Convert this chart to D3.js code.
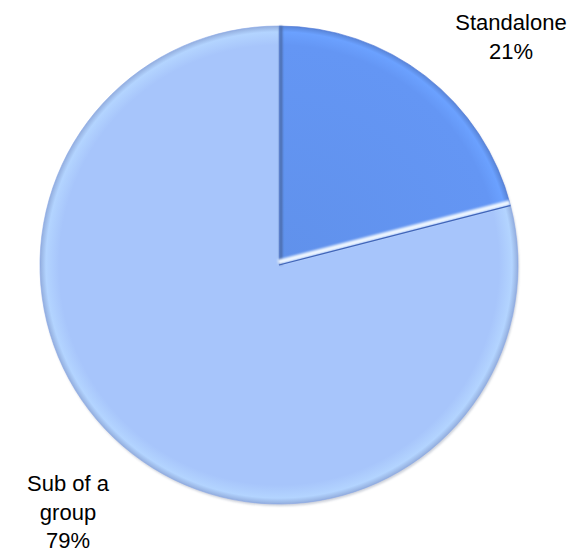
<!DOCTYPE html>
<html>
<head>
<meta charset="utf-8">
<script src="https://cdn.jsdelivr.net/npm/d3@7"></script>
<style>
  html, body { margin: 0; padding: 0; background: #fff; }
  text { font-family: "Liberation Sans", Arial, sans-serif; }
</style>
</head>
<body>
<svg id="chart" width="584" height="556"></svg>
<script>
// Company structure breakdown
const categories = ["Standalone", "Sub of a group"];
const shares = [21, 79];
const labelLines = [["Standalone", "21%"], ["Sub of a", "group", "79%"]];
const sliceColors = ["#6496f4", "#a7c5fb"];
const sliceEdges = ["#4a74d6", "#8aa8e8"];

const width = 584, height = 556;
const cx = 279, cy = 265, radius = 239;

const svg = d3.select("#chart");
const defs = svg.append("defs");

// soft radial shading per slice, with a lit rim and a dark outer edge
sliceColors.forEach((c, i) => {
  const g = defs.append("radialGradient")
    .attr("id", "grad" + i)
    .attr("gradientUnits", "userSpaceOnUse")
    .attr("cx", 0).attr("cy", 0).attr("r", radius);
  g.append("stop").attr("offset", "0%").attr("stop-color", i === 0 ? d3.color(c).darker(0.1) : c);
  g.append("stop").attr("offset", "92%").attr("stop-color", c);
  g.append("stop").attr("offset", "97.5%").attr("stop-color", d3.color(c).brighter(0.2));
  g.append("stop").attr("offset", "100%").attr("stop-color", d3.color(c).darker(0.35));
});

const blur = defs.append("filter").attr("id", "soft")
  .attr("filterUnits", "userSpaceOnUse")
  .attr("x", -cx).attr("y", -cy).attr("width", width).attr("height", height);
blur.append("feGaussianBlur").attr("stdDeviation", 1.2);

const pie = d3.pie().sort(null).value(d => d)(shares);
const arc = d3.arc().innerRadius(0).outerRadius(radius);

const g = svg.append("g").attr("transform", `translate(${cx},${cy})`);

// faint drop shadow under the disc
g.append("circle").attr("r", radius).attr("cx", 1).attr("cy", 2)
  .attr("fill", "#8e98ad").attr("opacity", 0.45).attr("filter", "url(#soft)");

g.selectAll("path.slice")
  .data(pie)
  .join("path")
  .attr("class", "slice")
  .attr("d", arc)
  .attr("fill", (d, i) => `url(#grad${i})`)
  .attr("stroke", (d, i) => sliceEdges[i])
  .attr("stroke-width", 0.6);

// bevel: shadow along the small slice's start edge, highlight along the big slice's start edge
pie.forEach((d, i) => {
  const a = d.startAngle;
  const x = Math.sin(a) * radius, y = -Math.cos(a) * radius;
  const off = i === 0 ? [2, 0] : [-Math.cos(a) * 3, -Math.sin(a) * 3];
  g.append("line")
    .attr("x1", off[0]).attr("y1", off[1])
    .attr("x2", x + off[0]).attr("y2", y + off[1])
    .attr("stroke", i === 0 ? "#4a67a0" : "#eef6ff")
    .attr("stroke-width", i === 0 ? 2.5 : 5)
    .attr("filter", "url(#soft)");
});
// dark outline along the end edge of the small slice
{
  const a = pie[0].endAngle;
  g.append("line").attr("x1", 0).attr("y1", 0)
    .attr("x2", Math.sin(a) * radius).attr("y2", -Math.cos(a) * radius)
    .attr("stroke", "#3f64b8").attr("stroke-width", 1.2);
}

// labels
const labelPos = [[511, 30], [68, 491]];
labelLines.forEach((lines, i) => {
  const t = svg.append("text")
    .attr("x", labelPos[i][0]).attr("y", labelPos[i][1])
    .attr("text-anchor", "middle")
    .attr("font-size", 22)
    .attr("fill", "#000");
  lines.forEach((s, j) => {
    t.append("tspan").attr("x", labelPos[i][0]).attr("dy", j === 0 ? 0 : 28.5).text(s);
  });
});
</script>
</body>
</html>
